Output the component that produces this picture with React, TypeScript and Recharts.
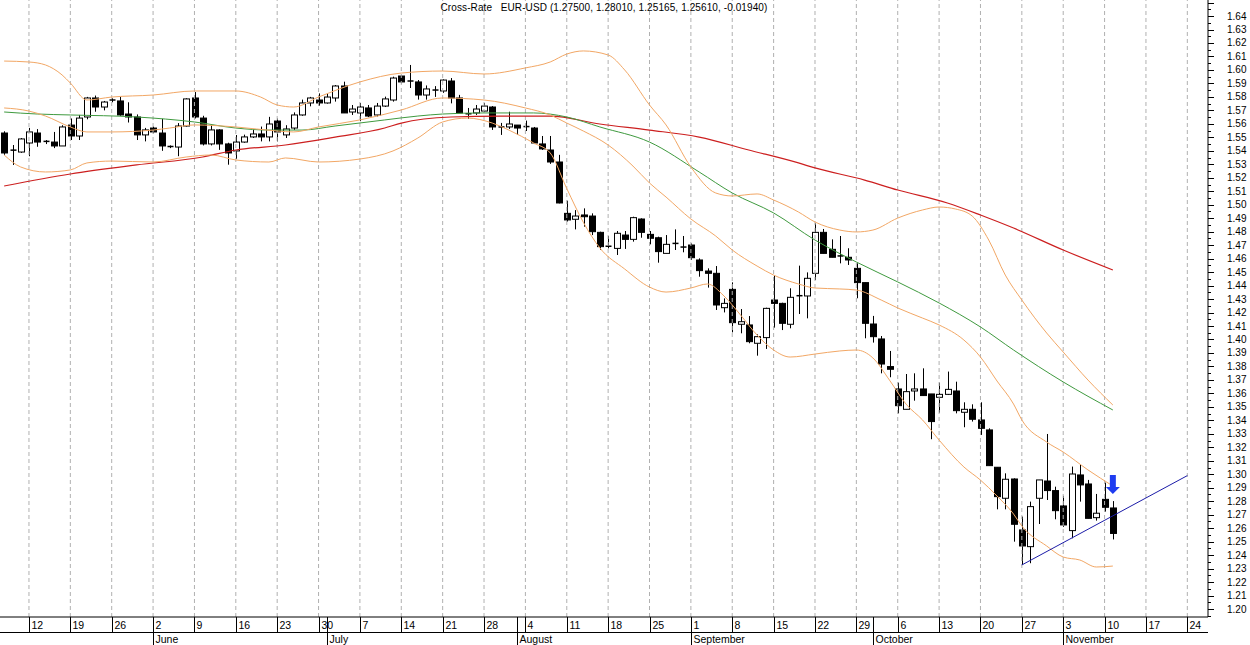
import {
  ComposedChart,
  Bar,
  Line,
  XAxis,
  YAxis,
  ReferenceLine,
  ReferenceDot,
} from "recharts";

const W = 1250;
const H = 645;
const YAXIS_W = 42;
const XAXIS_H = 28;
const PLOT_W = W - YAXIS_W;
const PLOT_H = H - XAXIS_H;
const FONT = '"Liberation Sans", Arial, sans-serif';

// weekday slots shown on the axis, 7 May .. 26 Nov 2008
const FIRST_DAY = new Date(2008, 4, 7);
const SLOT_COUNT = 146;

const days: Date[] = [];
for (let d = new Date(FIRST_DAY); days.length < SLOT_COUNT; d.setDate(d.getDate() + 1)) {
  if (d.getDay() !== 0 && d.getDay() !== 6) days.push(new Date(d));
}
const mondays = days.map((d, i) => (d.getDay() === 1 ? i : -1)).filter((i) => i >= 0);
const monthStarts = days
  .map((d, i) => (i > 0 && d.getMonth() !== days[i - 1].getMonth() ? i : -1))
  .filter((i) => i >= 0);
const mondaySet = new Set(mondays);
const monthSet = new Set(monthStarts);

// EUR-USD daily candles: [open, high, low, close]
const candles: [number, number, number, number][] = [
  [1.5532, 1.5545, 1.537, 1.5384], // May 7
  [1.5405, 1.5443, 1.5295, 1.54],
  [1.5391, 1.5495, 1.5385, 1.5488],
  [1.5458, 1.557, 1.536, 1.554], // May 12
  [1.5532, 1.5561, 1.543, 1.5465],
  [1.547, 1.548, 1.545, 1.5462],
  [1.5465, 1.554, 1.542, 1.5436],
  [1.5436, 1.559, 1.5436, 1.5577],
  [1.5591, 1.564, 1.548, 1.551], // May 19
  [1.551, 1.5666, 1.548, 1.5643],
  [1.5651, 1.58, 1.5634, 1.5792],
  [1.5792, 1.581, 1.569, 1.5725],
  [1.5725, 1.577, 1.57, 1.5762],
  [1.577, 1.579, 1.576, 1.5777], // May 26
  [1.577, 1.58, 1.566, 1.5666],
  [1.5673, 1.576, 1.561, 1.5651],
  [1.5651, 1.567, 1.548, 1.5518],
  [1.5518, 1.557, 1.547, 1.5555],
  [1.5569, 1.558, 1.553, 1.554], // Jun 2
  [1.5532, 1.5637, 1.54, 1.5436],
  [1.543, 1.544, 1.542, 1.5432],
  [1.5428, 1.5606, 1.536, 1.5584],
  [1.5584, 1.579, 1.558, 1.5785],
  [1.5792, 1.5836, 1.564, 1.5651], // Jun 9
  [1.5643, 1.566, 1.544, 1.5451],
  [1.5451, 1.559, 1.544, 1.5555],
  [1.5555, 1.556, 1.5407, 1.5451],
  [1.5451, 1.546, 1.5297, 1.5384],
  [1.5399, 1.5517, 1.534, 1.5465], // Jun 16
  [1.5465, 1.552, 1.546, 1.5503],
  [1.5503, 1.5555, 1.5495, 1.5525],
  [1.5525, 1.558, 1.547, 1.5503],
  [1.5503, 1.5652, 1.547, 1.5599],
  [1.5621, 1.564, 1.547, 1.554], // Jun 23
  [1.5518, 1.559, 1.5495, 1.5562],
  [1.5569, 1.5685, 1.5555, 1.5666],
  [1.5666, 1.578, 1.566, 1.5755],
  [1.5755, 1.58, 1.573, 1.5792],
  [1.5777, 1.5826, 1.5735, 1.5755], // Jun 30
  [1.5755, 1.5826, 1.575, 1.5799],
  [1.5792, 1.5888, 1.5765, 1.5881],
  [1.5881, 1.5913, 1.5681, 1.5681],
  [1.5688, 1.574, 1.5666, 1.571],
  [1.5681, 1.5755, 1.562, 1.5725], // Jul 7
  [1.5718, 1.574, 1.565, 1.5658],
  [1.5666, 1.5755, 1.5655, 1.5732],
  [1.5732, 1.5802, 1.5725, 1.5785],
  [1.5777, 1.595, 1.5765, 1.594],
  [1.5955, 1.5962, 1.59, 1.5911], // Jul 14
  [1.5911, 1.6037, 1.5866, 1.5918],
  [1.5911, 1.5925, 1.578, 1.5814],
  [1.5814, 1.5885, 1.578, 1.5859],
  [1.5848, 1.588, 1.58, 1.5851],
  [1.5844, 1.593, 1.583, 1.5925], // Jul 21
  [1.5918, 1.594, 1.5752, 1.5792],
  [1.5792, 1.5815, 1.5681, 1.5681],
  [1.5675, 1.5718, 1.5636, 1.5673],
  [1.5681, 1.574, 1.5666, 1.571],
  [1.5695, 1.5755, 1.5688, 1.5732], // Jul 28
  [1.5725, 1.5732, 1.5555, 1.5577],
  [1.5575, 1.5607, 1.5518, 1.5577],
  [1.5577, 1.569, 1.5562, 1.5599],
  [1.5591, 1.5591, 1.5518, 1.5569],
  [1.558, 1.5624, 1.5547, 1.5577], // Aug 4
  [1.5569, 1.5577, 1.545, 1.5458],
  [1.5451, 1.551, 1.5406, 1.5414],
  [1.5406, 1.551, 1.5303, 1.5317],
  [1.5317, 1.537, 1.501, 1.5013],
  [1.4936, 1.503, 1.4875, 1.4887], // Aug 11
  [1.4892, 1.496, 1.4817, 1.4916],
  [1.4924, 1.4973, 1.4837, 1.4911],
  [1.4916, 1.4936, 1.4775, 1.48],
  [1.4795, 1.48, 1.4665, 1.4689],
  [1.4692, 1.4768, 1.4676, 1.4686], // Aug 18
  [1.4676, 1.4805, 1.4627, 1.4788],
  [1.4775, 1.4805, 1.4672, 1.4743],
  [1.4743, 1.4911, 1.4726, 1.4904],
  [1.4894, 1.4899, 1.4755, 1.4795],
  [1.478, 1.4805, 1.4706, 1.4751], // Aug 25
  [1.4755, 1.4763, 1.457, 1.4652],
  [1.4639, 1.4775, 1.4639, 1.4706],
  [1.4713, 1.4817, 1.4664, 1.4706],
  [1.4686, 1.4768, 1.4647, 1.468],
  [1.4701, 1.4713, 1.459, 1.4607], // Sep 1
  [1.459, 1.4602, 1.4466, 1.4511],
  [1.4508, 1.4528, 1.4385, 1.4491],
  [1.4491, 1.4545, 1.4219, 1.4256],
  [1.4236, 1.4305, 1.4201, 1.4268],
  [1.4372, 1.4424, 1.4053, 1.4125], // Sep 8
  [1.4113, 1.4226, 1.4046, 1.4132],
  [1.4108, 1.4174, 1.3972, 1.3984],
  [1.3972, 1.4038, 1.388, 1.4021],
  [1.4014, 1.4236, 1.393, 1.4231],
  [1.4293, 1.4478, 1.4088, 1.4268], // Sep 15
  [1.4268, 1.4273, 1.407, 1.412],
  [1.4113, 1.438, 1.4083, 1.4313],
  [1.432, 1.4548, 1.4189, 1.4325],
  [1.4323, 1.4498, 1.4157, 1.4454],
  [1.4491, 1.4862, 1.4441, 1.4795], // Sep 22
  [1.4795, 1.482, 1.4639, 1.4639],
  [1.4669, 1.4743, 1.461, 1.461],
  [1.462, 1.4768, 1.4565, 1.4615],
  [1.461, 1.4677, 1.4553, 1.459],
  [1.4528, 1.4565, 1.4306, 1.4422], // Sep 29
  [1.4422, 1.4422, 1.4009, 1.412],
  [1.4115, 1.4175, 1.3977, 1.4021],
  [1.4004, 1.4026, 1.3749, 1.3818],
  [1.3799, 1.3915, 1.372, 1.3779],
  [1.3633, 1.368, 1.3452, 1.3509], // Oct 6
  [1.3482, 1.3744, 1.3482, 1.3613],
  [1.3618, 1.3749, 1.3546, 1.3633],
  [1.3633, 1.3786, 1.3584, 1.3584],
  [1.3596, 1.3596, 1.326, 1.3391],
  [1.3571, 1.368, 1.3457, 1.3593], // Oct 13
  [1.3593, 1.3762, 1.3588, 1.363],
  [1.3618, 1.3687, 1.3452, 1.3472],
  [1.346, 1.3534, 1.3349, 1.3482],
  [1.3482, 1.3519, 1.3391, 1.3408],
  [1.3403, 1.3534, 1.3292, 1.3341], // Oct 20
  [1.3329, 1.3341, 1.3064, 1.3064],
  [1.3052, 1.3052, 1.274, 1.2834],
  [1.2822, 1.3007, 1.274, 1.2963],
  [1.2965, 1.297, 1.25, 1.2629],
  [1.2587, 1.2686, 1.2327, 1.2468], // Oct 27
  [1.2463, 1.2797, 1.234, 1.276],
  [1.2822, 1.2958, 1.2631, 1.2958],
  [1.295, 1.3299, 1.2809, 1.2879],
  [1.2879, 1.2908, 1.2666, 1.273],
  [1.2765, 1.284, 1.261, 1.2624], // Nov 3
  [1.2582, 1.3057, 1.2525, 1.3002],
  [1.2995, 1.3069, 1.2797, 1.2921],
  [1.2928, 1.2958, 1.2673, 1.2673],
  [1.2678, 1.2854, 1.2656, 1.2711],
  [1.2814, 1.2938, 1.2723, 1.2755], // Nov 10
  [1.275, 1.2801, 1.25165, 1.2561],
];

// overlays: [slot, price]
const upperBand: [number, number][] = [
  [0, 1.6066], [3, 1.6059], [5, 1.6037], [7, 1.5963], [8, 1.5903], [10, 1.5777],
  [13, 1.5799], [18, 1.5814], [23, 1.5844], [28, 1.5844], [31, 1.5799], [33, 1.574],
  [35, 1.5725], [38, 1.5799], [43, 1.5911], [48, 1.5977], [53, 1.5992], [58, 1.597],
  [63, 1.6015], [66, 1.6059], [68, 1.6118], [70, 1.6141], [73, 1.6111], [75, 1.6],
  [78, 1.574], [80, 1.5592], [83, 1.528], [86, 1.5087], [88, 1.5065], [91, 1.508],
  [93, 1.5035], [96, 1.4946], [98, 1.4872], [101, 1.4812], [103, 1.4798], [105, 1.4812],
  [108, 1.4901], [111, 1.4961], [113, 1.4983], [115, 1.4968], [117, 1.4916], [119, 1.4738],
  [121, 1.4478], [123, 1.4293], [126, 1.4048], [128, 1.3907], [131, 1.3699], [134, 1.3514],
];

const middleBand: [number, number][] = [
  [0, 1.5718], [3, 1.5695], [5, 1.5658], [8, 1.5577], [10, 1.554], [13, 1.554],
  [18, 1.5554], [20, 1.5569], [23, 1.5592], [28, 1.5577], [33, 1.5547], [35, 1.554],
  [38, 1.5577], [43, 1.5629], [48, 1.5703], [53, 1.5792], [58, 1.5777], [63, 1.5718],
  [66, 1.5666], [68, 1.5606], [70, 1.5547], [73, 1.5443], [76, 1.5287], [78, 1.5161],
  [80, 1.5057], [83, 1.4894], [86, 1.4768], [88, 1.4664], [91, 1.4545], [93, 1.4478],
  [96, 1.4412], [98, 1.4382], [101, 1.4375], [103, 1.4367], [106, 1.4293], [108, 1.4234],
  [111, 1.4159], [113, 1.4108], [116, 1.3996], [118, 1.387], [120, 1.3692], [122, 1.3521],
  [123, 1.3403], [126, 1.3239], [128, 1.3165], [131, 1.3032], [134, 1.2913],
];

const lowerBand: [number, number][] = [
  [0, 1.5369], [2, 1.528], [5, 1.5243], [8, 1.5258], [10, 1.531], [13, 1.5324],
  [18, 1.5317], [22, 1.5354], [25, 1.5369], [28, 1.5332], [32, 1.5317], [34, 1.5347],
  [38, 1.5317], [43, 1.5339], [47, 1.5399], [50, 1.5495], [53, 1.5614], [56, 1.5643],
  [59, 1.5606], [61, 1.5554], [64, 1.5458], [66, 1.5384], [68, 1.512], [70, 1.487],
  [72, 1.4679], [75, 1.4523], [78, 1.4389], [80, 1.4352], [83, 1.4382], [85, 1.4412],
  [87, 1.4323], [89, 1.4182], [91, 1.4033], [93, 1.3922], [95, 1.387], [98, 1.3892],
  [101, 1.3915], [103, 1.3922], [105, 1.3863], [107, 1.3699], [109, 1.3521], [111, 1.3403],
  [113, 1.3254], [116, 1.3054], [118, 1.2957], [120, 1.2839], [122, 1.2705], [123, 1.2616],
  [126, 1.2468], [128, 1.2386], [130, 1.2364], [132, 1.2312], [134, 1.2319],
];

const greenAverage: [number, number][] = [
  [0, 1.5688], [4, 1.5673], [8, 1.5666], [16, 1.5651], [23, 1.5614], [28, 1.5569],
  [32, 1.5554], [36, 1.5554], [40, 1.5584], [46, 1.5629], [50, 1.5658], [53, 1.5673],
  [58, 1.5681], [64, 1.5681], [68, 1.5651], [72, 1.5577], [78, 1.5465], [84, 1.5243],
  [88, 1.5087], [93, 1.4939], [98, 1.4738], [103, 1.4575], [108, 1.4427], [113, 1.4271],
  [118, 1.4093], [122, 1.3922], [128, 1.3685], [134, 1.3477],
];

const redAverage: [number, number][] = [
  [0, 1.5139], [8, 1.5228], [16, 1.5295], [24, 1.5354], [28, 1.5406], [34, 1.5443],
  [40, 1.5502], [46, 1.5569], [48, 1.5606], [54, 1.5651], [60, 1.5658], [66, 1.5658],
  [72, 1.5599], [78, 1.5554], [84, 1.5502], [90, 1.5406], [96, 1.531], [98, 1.5273],
  [104, 1.5183], [108, 1.5109], [114, 1.5013], [118, 1.4924], [122, 1.4827], [128, 1.4664],
  [134, 1.4516],
];

// support line drawn from the 27 Oct low
const trendLine: [number, number][] = [
  [123, 1.2327],
  [143, 1.299],
];

const ARROW_SLOT = 134;
const ARROW_PRICE = 1.2995;

const TITLE = "Cross-Rate   EUR-USD (1.27500, 1.28010, 1.25165, 1.25610, -0.01940)";

// price axis: labelled every 0.01 from 1.20 to 1.64, small ticks in between
const priceTicks = Array.from({ length: 92 }, (_, k) => (239 + k) / 200);
const LABEL_MIN = 1.2;
const LABEL_MAX = 1.64;

const asMap = (pts: [number, number][]) => new Map(pts);
const upperMap = asMap(upperBand);
const middleMap = asMap(middleBand);
const lowerMap = asMap(lowerBand);
const greenMap = asMap(greenAverage);
const redMap = asMap(redAverage);
const trendMap = asMap(trendLine);

const data = days.map((_, i) => {
  const k = candles[i];
  return {
    i,
    range: k ? [k[2], k[1]] : undefined,
    o: k?.[0],
    h: k?.[1],
    l: k?.[2],
    c: k?.[3],
    upper: upperMap.get(i),
    middle: middleMap.get(i),
    lower: lowerMap.get(i),
    green: greenMap.get(i),
    red: redMap.get(i),
    trend: trendMap.get(i),
  };
});

function Candle(props: any) {
  const { x, y, width, height, payload } = props;
  if (!payload || payload.o == null) return null;
  const { o, h, l, c } = payload;
  const yTop = Math.min(y, y + height);
  const span = Math.abs(height);
  const cx = Math.round(x + width / 2) + 0.5;
  const at = (v: number) => (h > l ? yTop + ((h - v) / (h - l)) * span : yTop);
  const top = at(Math.max(o, c));
  const bottom = at(Math.min(o, c));
  const up = c >= o;
  return (
    <g>
      <line x1={cx} x2={cx} y1={yTop} y2={yTop + span} stroke="#000" />
      {bottom - top < 1.5 ? (
        <line x1={cx - 3} x2={cx + 3} y1={top} y2={top} stroke="#000" strokeWidth={1.5} />
      ) : (
        <rect
          x={cx - 3}
          y={top}
          width={6}
          height={bottom - top}
          fill={up ? "#fff" : "#000"}
          stroke="#000"
        />
      )}
    </g>
  );
}

function DateTick(props: any) {
  const { x, payload } = props;
  const i = payload.value as number;
  const lx = Math.round(x) + 0.5;
  return (
    <g fontFamily={FONT} fontSize={10.5} fill="#000">
      {mondaySet.has(i) && (
        <>
          <line x1={lx} x2={lx} y1={PLOT_H} y2={PLOT_H + 15} stroke="#000" />
          <text x={lx + 2} y={PLOT_H + 12}>
            {days[i].getDate()}
          </text>
        </>
      )}
      {monthSet.has(i) && (
        <>
          <line x1={lx} x2={lx} y1={PLOT_H} y2={H} stroke="#000" />
          <text x={lx + 2} y={PLOT_H + 26}>
            {days[i].toLocaleDateString("en-US", { month: "long" })}
          </text>
        </>
      )}
    </g>
  );
}

function PriceTick(props: any) {
  const { y, payload } = props;
  const v = payload.value as number;
  const major = Math.round(v * 200) % 2 === 0;
  const labelled = major && v >= LABEL_MIN - 1e-9 && v <= LABEL_MAX + 1e-9;
  const ly = Math.round(y) + 0.5;
  return (
    <g>
      <line x1={PLOT_W} x2={PLOT_W + (major ? 6 : 3)} y1={ly} y2={ly} stroke="#000" />
      {labelled && (
        <text x={PLOT_W + 19} y={y} dy={3.5} fontFamily={FONT} fontSize={10} fill="#000">
          {v.toFixed(2)}
        </text>
      )}
    </g>
  );
}

function DownArrow(props: any) {
  const { cx, cy } = props;
  if (cx == null || cy == null) return null;
  return (
    <path
      d={`M${cx - 3},${cy} H${cx + 3} V${cy + 12} H${cx + 7} L${cx},${cy + 19} L${cx - 7},${cy + 12} H${cx - 3} Z`}
      fill="#1f3cf0"
    />
  );
}

const lineProps = {
  type: "monotone" as const,
  dot: false,
  activeDot: false,
  connectNulls: true,
  isAnimationActive: false,
};

export default function App() {
  return (
    <div style={{ position: "relative", width: W, height: H, background: "#fff" }}>
      <style>{"body{margin:0}"}</style>
      <ComposedChart
        width={W}
        height={H}
        data={data}
        margin={{ top: 0, right: 0, bottom: 0, left: 0 }}
      >
        <XAxis
          dataKey="i"
          type="category"
          height={XAXIS_H}
          ticks={[...new Set([...mondays, ...monthStarts])].sort((a, b) => a - b)}
          interval={0}
          tickLine={false}
          tickSize={0}
          axisLine={{ stroke: "#000" }}
          tick={<DateTick />}
        />
        <YAxis
          orientation="right"
          type="number"
          width={YAXIS_W}
          domain={[1.1941, 1.6519]}
          allowDataOverflow
          ticks={priceTicks}
          interval={0}
          tickLine={false}
          tickSize={0}
          axisLine={{ stroke: "#000" }}
          tick={<PriceTick />}
        />
        {mondays.map((i) => (
          <ReferenceLine key={i} x={i} stroke="#b0b0b0" strokeDasharray="4 3" />
        ))}
        <Line dataKey="red" stroke="#cc1f1f" strokeWidth={1.2} {...lineProps} />
        <Line dataKey="green" stroke="#3f9a3f" strokeWidth={1} {...lineProps} />
        <Line dataKey="upper" stroke="#f2a765" strokeWidth={1} {...lineProps} />
        <Line dataKey="middle" stroke="#f2a765" strokeWidth={1} {...lineProps} />
        <Line dataKey="lower" stroke="#f2a765" strokeWidth={1} {...lineProps} />
        <Bar dataKey="range" shape={<Candle />} isAnimationActive={false} />
        <Line dataKey="trend" stroke="#1c1ca8" strokeWidth={1} {...lineProps} type="linear" />
        <ReferenceDot x={ARROW_SLOT} y={ARROW_PRICE} r={0} shape={<DownArrow />} />
      </ComposedChart>
      <div
        style={{
          position: "absolute",
          left: 0,
          top: PLOT_H + 15,
          width: PLOT_W,
          height: 1,
          background: "#000",
        }}
      />
      <div
        style={{
          position: "absolute",
          left: 0,
          top: 2,
          width: PLOT_W,
          textAlign: "center",
          fontFamily: FONT,
          fontSize: 10,
          letterSpacing: 0.1,
          whiteSpace: "pre",
          color: "#000",
        }}
      >
        {TITLE}
      </div>
    </div>
  );
}
